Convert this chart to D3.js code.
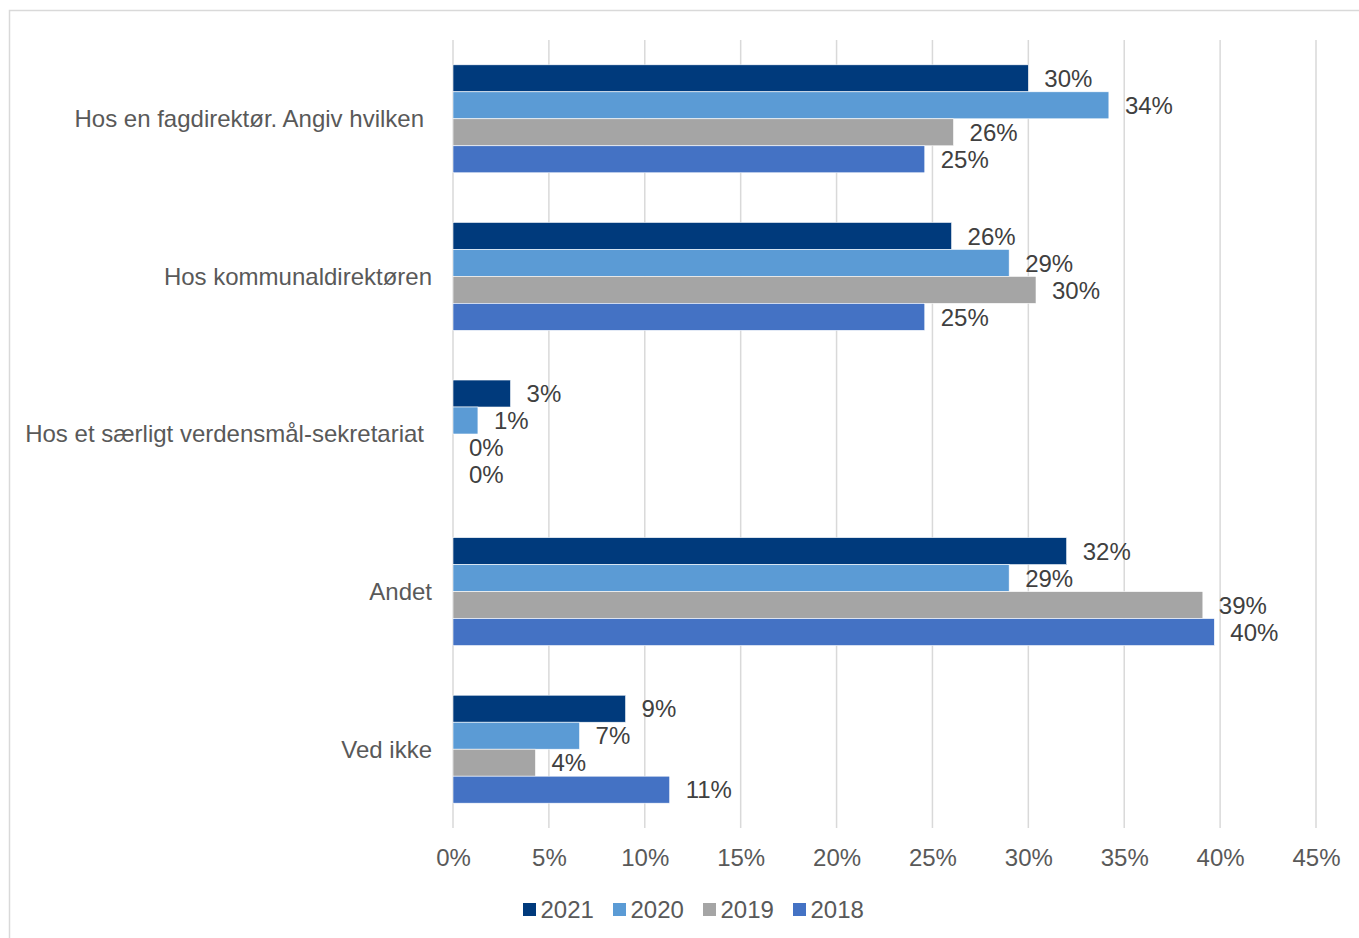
<!DOCTYPE html>
<html><head><meta charset="utf-8">
<script src="https://cdn.jsdelivr.net/npm/d3@7"></script>
<style>body{margin:0;background:#fff;}svg{display:block;font-family:"Liberation Sans",Arial,sans-serif;}</style>
</head><body><svg id="c" width="1359" height="938"></svg>
<script>
const categories = ["Hos en fagdirektør. Angiv hvilken","Hos kommunaldirektøren","Hos et særligt verdensmål-sekretariat","Andet","Ved ikke"];
const seriesNames = ["2021","2020","2019","2018"];
const seriesColors = ["#003A7C","#5B9BD5","#A5A5A5","#4472C4"];
const values2021 = [30, 26, 3, 32, 9];
const values2020 = [34.2, 29, 1.3, 29, 6.6];
const values2019 = [26.1, 30.4, 0, 39.1, 4.3];
const values2018 = [24.6, 24.6, 0, 39.7, 11.3];
const xTicks = [0,5,10,15,20,25,30,35,40,45];

const seriesValues = [values2021, values2020, values2019, values2018];
const svg = d3.select("#c");
svg.append("rect").attr("x",9.5).attr("y",10.5).attr("width",1400).attr("height",1000)
  .attr("fill","#fff").attr("stroke","#d9d9d9").attr("stroke-width",1.5);

const x = d3.scaleLinear().domain([0,45]).range([453,1316]);
const y = d3.scaleBand().domain(categories).range([40,828]).paddingInner(0.315).paddingOuter(0.1575);
const yi = d3.scaleBand().domain(seriesNames).range([0,y.bandwidth()]);

// gridlines
svg.append("g").selectAll("line").data(xTicks).join("line")
  .attr("x1",d=>x(d)).attr("x2",d=>x(d)).attr("y1",40).attr("y2",828)
  .attr("stroke","#d9d9d9").attr("stroke-width",1.5);

// axis
const ax = svg.append("g").attr("transform","translate(0,828)")
  .call(d3.axisBottom(x).tickValues(xTicks).tickFormat(d=>d+"%").tickSize(0).tickPadding(21));
ax.select(".domain").remove();
ax.selectAll("text").attr("fill","#595959").style("font-size","24px").style("font-family","Liberation Sans, Arial, sans-serif");

// category labels
const cl = svg.append("g").selectAll("text").data(categories).join("text")
  .attr("x",432).attr("y",d=>y(d)+y.bandwidth()/2).attr("dy","0.35em")
  .attr("text-anchor","end").attr("fill","#595959").style("font-size","24px").text(d=>d);
cl.each(function(){ if (this.getComputedTextLength() > 300) d3.select(this).attr("x",424); });

// bars
const rows = [];
categories.forEach((c,i)=>seriesNames.forEach((s,j)=>rows.push({c,s,j,v:seriesValues[j][i]})));
svg.append("g").selectAll("rect").data(rows).join("rect")
  .attr("x",x(0)).attr("y",d=>y(d.c)+yi(d.s)).attr("width",d=>x(d.v)-x(0)).attr("height",yi.bandwidth())
  .attr("fill",d=>seriesColors[d.j]).attr("stroke",d=>d.v>0?"#fff":"none").attr("stroke-width",0.6);

svg.append("g").selectAll("text").data(rows).join("text")
  .attr("x",d=>x(d.v)+16).attr("y",d=>y(d.c)+yi(d.s)+yi.bandwidth()/2).attr("dy","0.36em")
  .attr("fill","#404040").style("font-size","24px").text(d=>Math.round(d.v)+"%");

// legend
const lg = svg.append("g");
seriesNames.forEach((s,j)=>{
  const gx = 523 + j*90;
  lg.append("rect").attr("x",gx).attr("y",903).attr("width",13).attr("height",13).attr("fill",seriesColors[j]);
  lg.append("text").attr("x",gx+17.5).attr("y",909.5).attr("dy","0.36em").attr("fill","#595959")
    .style("font-size","24px").text(s);
});
</script></body></html>
